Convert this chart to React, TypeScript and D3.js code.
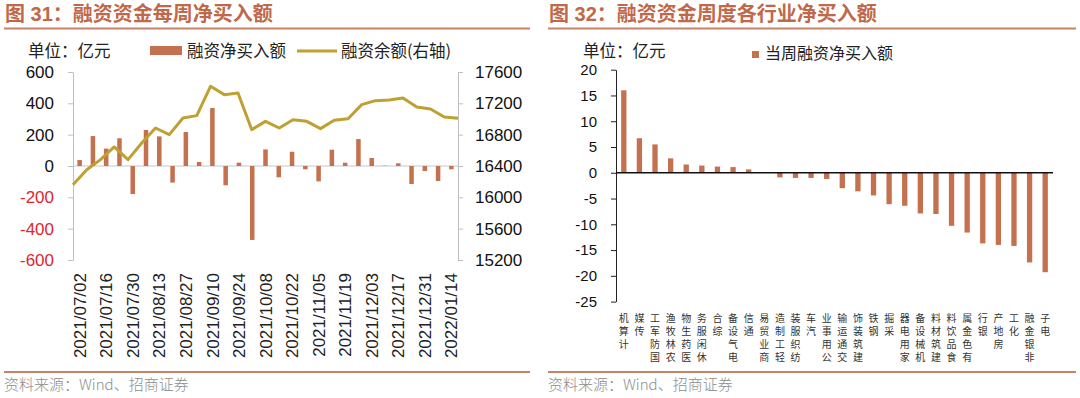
import { useRef, useEffect } from 'react';
import * as d3 from 'd3';

const WIDTH = 1080;
const HEIGHT = 398;

// ── Left chart: weekly margin net buying (bars) + margin balance (line, right axis)
const weeks = [
  '2021/07/02', '2021/07/09', '2021/07/16', '2021/07/23', '2021/07/30',
  '2021/08/06', '2021/08/13', '2021/08/20', '2021/08/27', '2021/09/03',
  '2021/09/10', '2021/09/17', '2021/09/24', '2021/10/01', '2021/10/08',
  '2021/10/15', '2021/10/22', '2021/10/29', '2021/11/05', '2021/11/12',
  '2021/11/19', '2021/11/26', '2021/12/03', '2021/12/10', '2021/12/17',
  '2021/12/24', '2021/12/31', '2022/01/07', '2022/01/14',
];
const weekLabels = weeks.filter((_, i) => i % 2 === 0);
const netBuy = [
  38, 191, 111, 177, -179, 230, 189, -106, 217, 26,
  370, -123, 21, -472, 106, -72, 91, -21, -98, 104,
  21, 172, 51, 2, 17, -115, -32, -96, -21,
];
const balance = [
  16162, 16353, 16481, 16643, 16481, 16694, 16885, 16800, 17013, 17043,
  17417, 17311, 17332, 16864, 16970, 16885, 16991, 16970, 16877, 16983,
  17004, 17183, 17234, 17243, 17268, 17153, 17128, 17026, 17009,
];
const leftTicks = [-600, -400, -200, 0, 200, 400, 600];
const rightTicks = [15200, 15600, 16000, 16400, 16800, 17200, 17600];

// ── Right chart: net buying by industry this week
const industries = [
  '计算机', '传媒', '国防军工', '农林牧渔', '医药生物', '休闲服务', '综合',
  '电气设备', '通信', '商业贸易', '轻工制造', '纺织服装', '汽车', '公用事业',
  '交通运输', '建筑装饰', '钢铁', '采掘', '家用电器', '机械设备', '建筑材料',
  '食品饮料', '有色金属', '银行', '房地产', '化工', '非银金融', '电子',
];
const industryNetBuy = [
  16.0, 6.7, 5.5, 2.8, 1.6, 1.4, 1.2, 1.1, 0.65, -0.05,
  -0.9, -1.0, -1.0, -1.2, -3.0, -3.6, -4.4, -6.1, -6.4, -7.9,
  -8.0, -10.3, -11.6, -13.7, -14.0, -14.2, -17.4, -19.3,
];
const industryTicks = [-25, -20, -15, -10, -5, 0, 5, 10, 15, 20];

const TITLE_COLOR = '#C0684A';
const RULE_COLOR = '#C8826A';
const BAR_COLOR = '#C4714F';
const LINE_COLOR = '#BFA032';
const NEG_COLOR = '#E0262C';
const NUM_FONT = "'Liberation Sans', Arial, 'Noto Sans CJK SC', sans-serif";
const CJK_FONT = "'Noto Sans CJK SC', sans-serif";

type Sel = d3.Selection<SVGSVGElement, unknown, null, undefined>;

function frame(svg: Sel, x0: number, x1: number, title: string) {
  svg.append('text')
    .attr('x', x0 + 1)
    .attr('y', 21)
    .attr('font-family', NUM_FONT)
    .attr('font-size', 20)
    .attr('font-weight', 700)
    .attr('fill', TITLE_COLOR)
    .text(title);
  svg.append('line')
    .attr('x1', x0).attr('x2', x1)
    .attr('y1', 28.5).attr('y2', 28.5)
    .attr('stroke', RULE_COLOR)
    .attr('stroke-width', 2);
  svg.append('line')
    .attr('x1', x0).attr('x2', x1)
    .attr('y1', 372).attr('y2', 372)
    .attr('stroke', RULE_COLOR)
    .attr('stroke-width', 2);
  svg.append('text')
    .attr('x', x0)
    .attr('y', 390)
    .attr('font-family', CJK_FONT)
    .attr('font-size', 15)
    .attr('font-weight', 300)
    .attr('fill', '#8C8C8C')
    .text('资料来源：Wind、招商证券');
}

export default function App() {
  const svgRef = useRef<SVGSVGElement>(null);

  useEffect(() => {
    if (!svgRef.current) return;
    const svg = d3.select(svgRef.current);
    svg.selectAll('*').remove();

    // ══ Left chart ═══════════════════════════════════════════════════════════
    frame(svg, 4, 530, '图 31：融资资金每周净买入额');

    const L = { left: 73, right: 458, top: 72, bottom: 260 };
    const xBand = d3.scaleBand<string>().domain(weeks).range([L.left, L.right])
      .paddingInner(0.66).paddingOuter(0.33);
    const xPoint = d3.scalePoint<string>().domain(weeks).range([L.left, L.right]);
    const yL = d3.scaleLinear().domain([-600, 600]).range([L.bottom, L.top]);
    const yR = d3.scaleLinear().domain([15200, 17600]).range([L.bottom, L.top]);

    // legend
    const lg = svg.append('g').attr('font-family', CJK_FONT).attr('font-size', 16.5).attr('fill', '#222');
    lg.append('text').attr('x', 28).attr('y', 57).text('单位：亿元');
    lg.append('rect').attr('x', 150).attr('y', 46).attr('width', 32).attr('height', 9).attr('fill', BAR_COLOR);
    lg.append('text').attr('x', 187).attr('y', 57).text('融资净买入额');
    lg.append('line').attr('x1', 297).attr('x2', 337).attr('y1', 51).attr('y2', 51)
      .attr('stroke', LINE_COLOR).attr('stroke-width', 3);
    lg.append('text').attr('x', 341).attr('y', 57).text('融资余额(右轴)');

    // left axis
    const axL = svg.append('g')
      .attr('transform', `translate(${L.left},0)`)
      .call(d3.axisLeft(yL).tickValues(leftTicks).tickSize(5).tickSizeOuter(0).tickPadding(14)
        .tickFormat((d) => `${d}`));
    axL.select('.domain').attr('stroke', '#BFBFBF');
    axL.selectAll('.tick line').attr('stroke', '#BFBFBF');
    axL.selectAll<SVGTextElement, number>('.tick text')
      .attr('font-family', NUM_FONT)
      .attr('font-size', 17)
      .attr('fill', (d) => (d < 0 ? NEG_COLOR : '#111'));

    // right axis
    const axR = svg.append('g')
      .attr('transform', `translate(${L.right},0)`)
      .call(d3.axisRight(yR).tickValues(rightTicks).tickSize(5).tickSizeOuter(0).tickPadding(12)
        .tickFormat((d) => `${d}`));
    axR.select('.domain').attr('stroke', '#BFBFBF');
    axR.selectAll('.tick line').attr('stroke', '#BFBFBF');
    axR.selectAll('.tick text')
      .attr('font-family', NUM_FONT)
      .attr('font-size', 17)
      .attr('fill', '#111');

    // zero line
    svg.append('line')
      .attr('x1', L.left).attr('x2', L.right)
      .attr('y1', yL(0)).attr('y2', yL(0))
      .attr('stroke', '#C4C6D6')
      .attr('stroke-width', 1.2);

    // bars
    svg.append('g')
      .selectAll('rect')
      .data(netBuy)
      .join('rect')
      .attr('x', (_, i) => xBand(weeks[i])!)
      .attr('width', xBand.bandwidth())
      .attr('y', (d) => yL(Math.max(0, d)))
      .attr('height', (d) => Math.abs(yL(d) - yL(0)))
      .attr('fill', BAR_COLOR);

    // balance line
    const line = d3.line<number>()
      .x((_, i) => xPoint(weeks[i])!)
      .y((d) => yR(d));
    svg.append('path')
      .datum(balance)
      .attr('fill', 'none')
      .attr('stroke', LINE_COLOR)
      .attr('stroke-width', 3)
      .attr('stroke-linejoin', 'round')
      .attr('d', line);

    // date labels
    svg.append('g')
      .selectAll('text')
      .data(weekLabels)
      .join('text')
      .attr('transform', (d) => `translate(${xBand(d)! + xBand.bandwidth() / 2},273) rotate(-90)`)
      .attr('dy', '0.36em')
      .attr('text-anchor', 'end')
      .attr('font-family', NUM_FONT)
      .attr('font-size', 17)
      .attr('fill', '#222')
      .text((d) => d);

    // ══ Right chart ══════════════════════════════════════════════════════════
    frame(svg, 548, 1076, '图 32：融资资金周度各行业净买入额');

    const R = { left: 616, right: 1053, top: 69.7, bottom: 301.6 };
    const xInd = d3.scaleBand<string>().domain(industries).range([R.left, R.right])
      .paddingInner(0.66).paddingOuter(0.33);
    const yInd = d3.scaleLinear().domain([-25, 20]).range([R.bottom, R.top]);

    const rg = svg.append('g').attr('font-family', CJK_FONT).attr('fill', '#222');
    rg.append('text').attr('x', 583).attr('y', 57).attr('font-size', 16.5).text('单位：亿元');
    rg.append('rect').attr('x', 752).attr('y', 51).attr('width', 7).attr('height', 7).attr('fill', BAR_COLOR);
    rg.append('text').attr('x', 765).attr('y', 59).attr('font-size', 16).text('当周融资净买入额');

    const axI = svg.append('g')
      .attr('transform', `translate(${R.left},0)`)
      .call(d3.axisLeft(yInd).tickValues(industryTicks).tickSize(5).tickSizeOuter(0).tickPadding(14)
        .tickFormat((d) => `${d}`));
    axI.select('.domain').attr('stroke', '#222');
    axI.selectAll('.tick line').attr('stroke', '#222');
    axI.selectAll('.tick text')
      .attr('font-family', NUM_FONT)
      .attr('font-size', 15)
      .attr('fill', '#111');

    svg.append('g')
      .selectAll('rect')
      .data(industryNetBuy)
      .join('rect')
      .attr('x', (_, i) => xInd(industries[i])!)
      .attr('width', xInd.bandwidth())
      .attr('y', (d) => yInd(Math.max(0, d)))
      .attr('height', (d) => Math.abs(yInd(d) - yInd(0)))
      .attr('fill', BAR_COLOR);

    svg.append('line')
      .attr('x1', R.left).attr('x2', R.right)
      .attr('y1', yInd(0)).attr('y2', yInd(0))
      .attr('stroke', '#111')
      .attr('stroke-width', 1.5);

    // category labels: upright characters stacked, reading bottom → top, top-aligned
    const catG = svg.append('g')
      .attr('font-family', CJK_FONT)
      .attr('font-size', 10)
      .attr('fill', '#333')
      .attr('text-anchor', 'middle');
    industries.forEach((name) => {
      const cx = xInd(name)! + xInd.bandwidth() / 2;
      const chars = Array.from(name);
      chars.forEach((ch, k) => {
        catG.append('text')
          .attr('x', cx)
          .attr('y', 322 + (chars.length - 1 - k) * 13)
          .text(ch);
      });
    });
  }, []);

  return (
    <svg
      ref={svgRef}
      width={WIDTH}
      height={HEIGHT}
      viewBox={`0 0 ${WIDTH} ${HEIGHT}`}
      style={{ position: 'fixed', left: 0, top: 0, background: '#fff' }}
    />
  );
}
